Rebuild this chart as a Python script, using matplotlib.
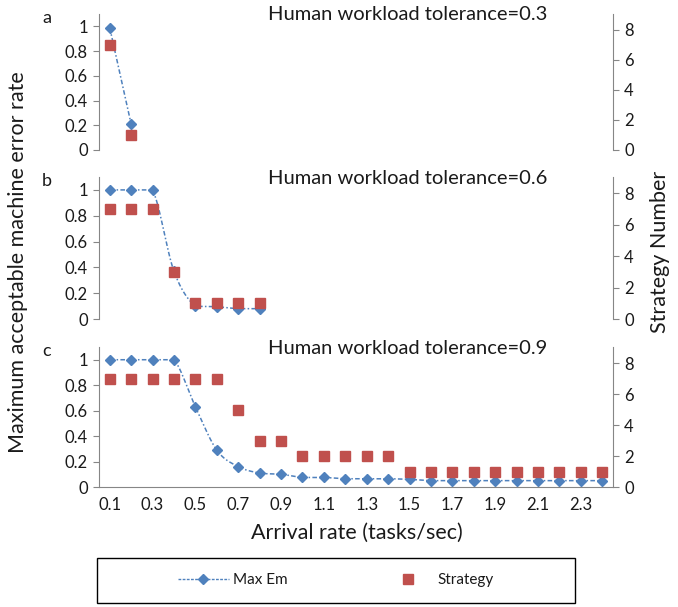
import numpy as np
import matplotlib
import matplotlib.pyplot as plt
from matplotlib.patches import Rectangle
from matplotlib.lines import Line2D

matplotlib.use("Agg")
plt.rcParams['font.family'] = ['Lato', 'DejaVu Sans']

# categories on the arrival-rate axis
rates = ['0.1', '0.2', '0.3', '0.4', '0.5', '0.6', '0.7', '0.8', '0.9', '1.0', '1.1', '1.2',
         '1.3', '1.4', '1.5', '1.6', '1.7', '1.8', '1.9', '2.0', '2.1', '2.2', '2.3', '2.4']

# panel a: tolerance 0.3
em_a = [0.99, 0.21]
strat_a = [7, 1]
# panel b: tolerance 0.6
em_b = [1.0, 1.0, 1.0, 0.37, 0.10, 0.095, 0.08, 0.08]
strat_b = [7, 7, 7, 3, 1, 1, 1, 1]
# panel c: tolerance 0.9
em_c = [1.0, 1.0, 1.0, 1.0, 0.63, 0.29, 0.16, 0.11, 0.10, 0.075, 0.075, 0.065,
        0.065, 0.065, 0.06, 0.05, 0.05, 0.05, 0.05, 0.05, 0.05, 0.05, 0.05, 0.05]
strat_c = [7, 7, 7, 7, 7, 7, 5, 3, 3, 2, 2, 2, 2, 2, 1, 1, 1, 1, 1, 1, 1, 1, 1, 1]

panels = [('a', '0.3', em_a, strat_a), ('b', '0.6', em_b, strat_b), ('c', '0.9', em_c, strat_c)]

BLUE = '#4F81BD'
RED = '#C0504D'
GREY = '#868686'
TXT = '#1a1a1a'

W, H = 678, 607
fig = plt.figure(figsize=(W / 100, H / 100), dpi=100)


def smooth(x, y, n=24):
    # excel-like smoothed line (catmull-rom as cubic bezier, no overshoot)
    p = np.column_stack([x, y]).astype(float)
    if len(p) < 2:
        return p[:, 0], p[:, 1]
    out = [p[0]]
    t = np.linspace(0, 1, n)[1:, None]
    for i in range(len(p) - 1):
        p0 = p[i - 1] if i > 0 else p[i]
        p1, p2 = p[i], p[i + 1]
        p3 = p[i + 2] if i + 2 < len(p) else p[i + 1]
        c1 = p1 + (p2 - p0) / 6
        c2 = p2 - (p3 - p1) / 6
        lo, hi = min(p1[1], p2[1]), max(p1[1], p2[1])
        c1[1] = np.clip(c1[1], lo, hi)
        c2[1] = np.clip(c2[1], lo, hi)
        seg = ((1 - t) ** 3) * p1 + 3 * ((1 - t) ** 2) * t * c1 + 3 * (1 - t) * t ** 2 * c2 + t ** 3 * p2
        out.extend(seg)
    out = np.array(out)
    return out[:, 0], out[:, 1]


# pixel boxes (top, bottom) of each panel
boxes = [(14, 150), (177, 319), (347, 487)]
left_px, right_px = 99, 613

for k, (lab, tol, em, strat) in enumerate(panels):
    top, bot = boxes[k]
    ax = fig.add_axes([left_px / W, 1 - bot / H, (right_px - left_px) / W, (bot - top) / H])
    ax2 = ax.twinx()
    x = np.arange(len(em))
    sx, sy = smooth(x, em)
    ax.plot(sx, sy, color=BLUE, lw=1.1, ls=(0, (3, 1.5, 1, 1.5)))
    ax.plot(x, em, ls='none', marker='D', ms=5, color=BLUE)
    ax2.plot(np.arange(len(strat)), strat, ls='none', marker='s', ms=7.5, color=RED)

    ax.set_xlim(-0.5, len(rates) - 0.5)
    ax.set_ylim(0, 1.1)
    ax2.set_ylim(0, 9.05)
    ax.set_yticks([0, 0.2, 0.4, 0.6, 0.8, 1])
    ax.set_yticklabels(['0', '0.2', '0.4', '0.6', '0.8', '1'])
    ax2.set_yticks([0, 2, 4, 6, 8])

    for a in (ax, ax2):
        for s in a.spines.values():
            s.set_visible(False)
    ax.spines['left'].set_visible(True)
    ax.spines['left'].set_color(GREY)
    ax2.spines['right'].set_visible(True)
    ax2.spines['right'].set_color(GREY)
    ax.tick_params(axis='y', direction='out', length=4, color=GREY, labelsize=12, labelcolor=TXT, pad=4)
    ax2.tick_params(axis='y', direction='out', length=4, color=GREY, labelsize=12, labelcolor=TXT, pad=4)

    if k == 2:
        ax.spines['bottom'].set_visible(True)
        ax.spines['bottom'].set_color(GREY)
        ax.set_xticks(np.arange(-0.5, len(rates), 1.0))
        ax.set_xticklabels([])
        ax.set_xticks(np.arange(0, len(rates), 2), minor=True)
        ax.set_xticklabels(rates[::2], minor=True)
        ax.tick_params(axis='x', which='major', direction='out', length=4, color=GREY)
        ax.tick_params(axis='x', which='minor', length=0, labelsize=12, labelcolor=TXT, pad=7)
    else:
        ax.set_xticks([])
    ax2.set_xticks([])

    fig.text(47 / W, 1 - (top + 4) / H, lab, fontsize=13, color=TXT, ha='center', va='center')
    fig.text(408 / W, 1 - (top + 1) / H, 'Human workload tolerance=' + tol, fontsize=14.5,
             color=TXT, ha='center', va='center')

fig.text(18 / W, 1 - 262 / H, 'Maximum acceptable machine error rate', rotation=90,
         fontsize=15.5, color=TXT, ha='center', va='center')
fig.text(660 / W, 1 - 252 / H, 'Strategy Number', rotation=90,
         fontsize=15.5, color=TXT, ha='center', va='center')
fig.text(357 / W, 1 - 533 / H, 'Arrival rate (tasks/sec)', fontsize=15.5, color=TXT,
         ha='center', va='center')

# legend box
fig.patches.append(Rectangle((97 / W, 1 - 603 / H), (575 - 97) / W, (603 - 558) / H,
                             transform=fig.transFigure, fill=False, ec='black', lw=1.0))
h1 = Line2D([], [], color=BLUE, lw=1.0, ls=(0, (2, 1)), marker='D', ms=5)
h2 = Line2D([], [], ls='none', marker='s', ms=7.5, color=RED)
fig.legend([h1, h2], ['Max Em', 'Strategy'], loc='center', bbox_to_anchor=(336 / W, 1 - 580 / H),
           ncol=2, frameon=False, fontsize=11, handlelength=3.3, handletextpad=0.3,
           columnspacing=6.2, labelcolor=TXT)

fig.savefig('out.png', dpi=100)
